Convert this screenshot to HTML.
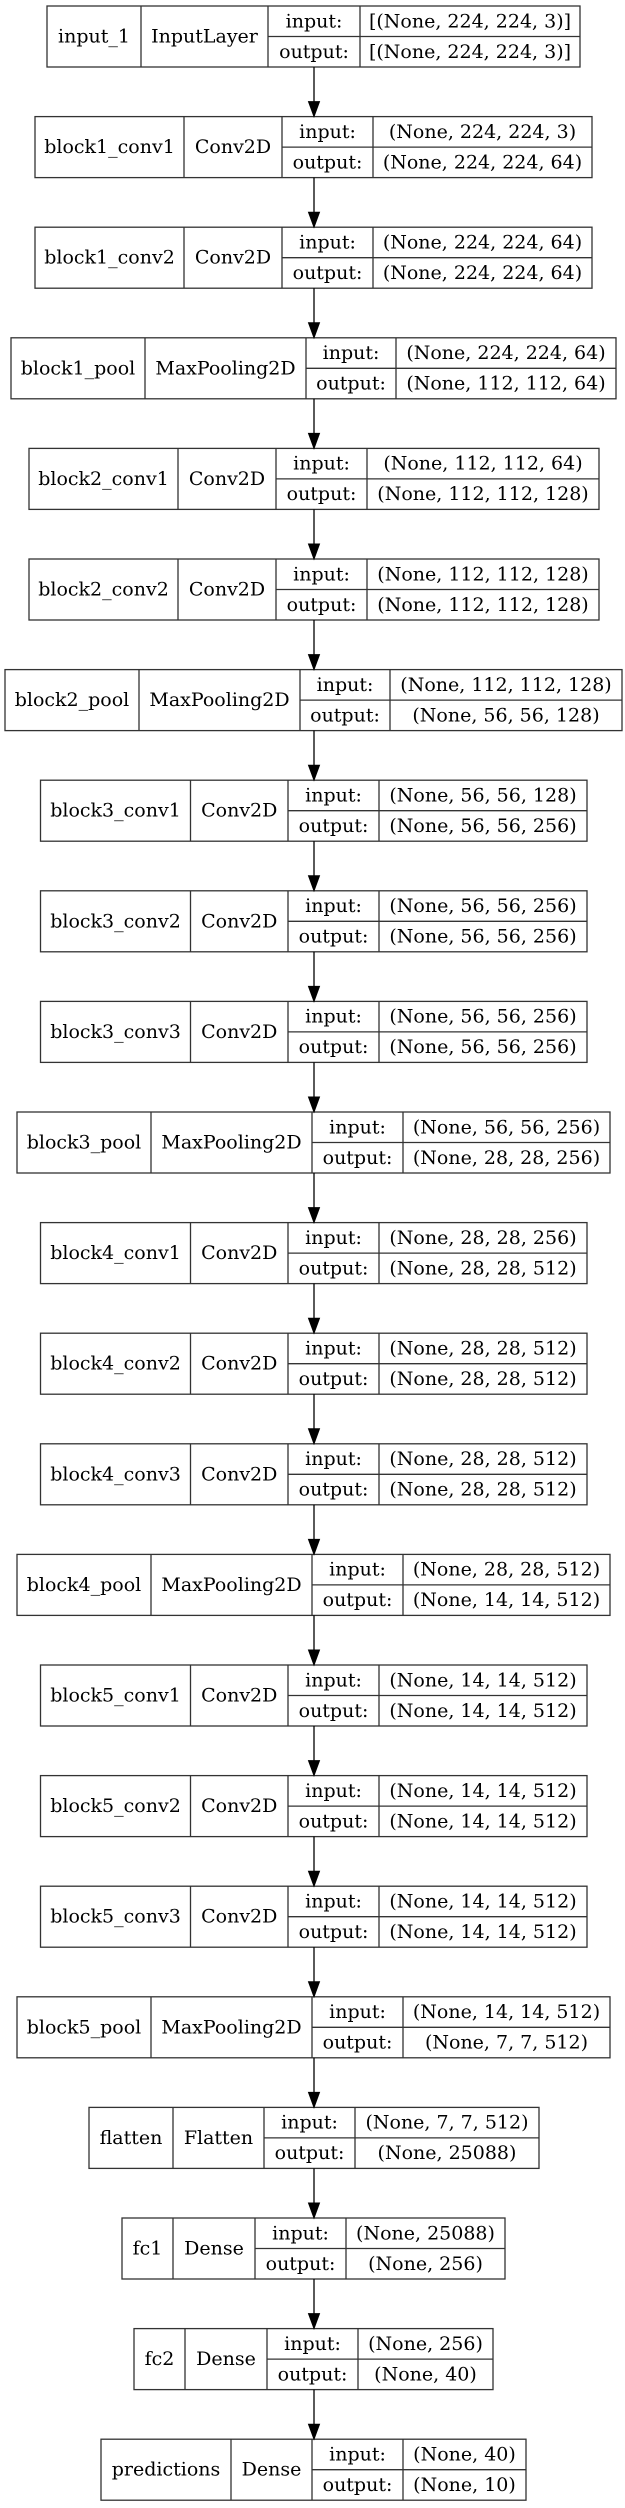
<!DOCTYPE html>
<html><head><meta charset="utf-8"><style>
html,body{margin:0;padding:0;background:#fff;}
svg{display:block;}
rect,line{stroke:#333;stroke-width:1.3;fill:none;}
rect{fill:#fff;}
text{font-family:"DejaVu Serif","Liberation Serif",serif;font-size:19px;text-anchor:middle;dominant-baseline:central;fill:#000;}
.ar line{stroke:#000;stroke-width:1.3;}
.ar polygon{fill:#000;stroke:#000;stroke-width:1;}
</style></head><body>
<svg width="625" height="2508" viewBox="0 0 625 2508" xmlns="http://www.w3.org/2000/svg">

<!-- 0 input_1 -->
<g transform="translate(0,6)"><rect x="47" y="0" width="533" height="61"/><line x1="141" y1="0" x2="141" y2="61"/><line x1="268" y1="0" x2="268" y2="61"/><line x1="360" y1="0" x2="360" y2="61"/><line x1="268" y1="30.5" x2="580" y2="30.5"/>
<text x="94" y="30.5">input_1</text><text x="204.5" y="30.5">InputLayer</text><text x="314" y="15.25">input:</text><text x="470" y="15.25">[(None, 224, 224, 3)]</text><text x="314" y="45.75">output:</text><text x="470" y="45.75">[(None, 224, 224, 3)]</text></g>

<!-- 1 block1_conv1 -->
<g transform="translate(0,116.6)"><rect x="35" y="0" width="557" height="61"/><line x1="184" y1="0" x2="184" y2="61"/><line x1="282" y1="0" x2="282" y2="61"/><line x1="373" y1="0" x2="373" y2="61"/><line x1="282" y1="30.5" x2="592" y2="30.5"/>
<text x="109.5" y="30.5">block1_conv1</text><text x="233" y="30.5">Conv2D</text><text x="327.5" y="15.25">input:</text><text x="482.5" y="15.25">(None, 224, 224, 3)</text><text x="327.5" y="45.75">output:</text><text x="482.5" y="45.75">(None, 224, 224, 64)</text></g>

<!-- 2 block1_conv2 -->
<g transform="translate(0,227.2)"><rect x="35" y="0" width="557" height="61"/><line x1="184" y1="0" x2="184" y2="61"/><line x1="282" y1="0" x2="282" y2="61"/><line x1="373" y1="0" x2="373" y2="61"/><line x1="282" y1="30.5" x2="592" y2="30.5"/>
<text x="109.5" y="30.5">block1_conv2</text><text x="233" y="30.5">Conv2D</text><text x="327.5" y="15.25">input:</text><text x="482.5" y="15.25">(None, 224, 224, 64)</text><text x="327.5" y="45.75">output:</text><text x="482.5" y="45.75">(None, 224, 224, 64)</text></g>

<!-- 3 block1_pool -->
<g transform="translate(0,337.8)"><rect x="11" y="0" width="605" height="61"/><line x1="145" y1="0" x2="145" y2="61"/><line x1="306" y1="0" x2="306" y2="61"/><line x1="396" y1="0" x2="396" y2="61"/><line x1="306" y1="30.5" x2="616" y2="30.5"/>
<text x="78" y="30.5">block1_pool</text><text x="225.5" y="30.5">MaxPooling2D</text><text x="351" y="15.25">input:</text><text x="506" y="15.25">(None, 224, 224, 64)</text><text x="351" y="45.75">output:</text><text x="506" y="45.75">(None, 112, 112, 64)</text></g>

<!-- 4 block2_conv1 -->
<g transform="translate(0,448.4)"><rect x="29" y="0" width="570" height="61"/><line x1="178" y1="0" x2="178" y2="61"/><line x1="276" y1="0" x2="276" y2="61"/><line x1="367" y1="0" x2="367" y2="61"/><line x1="276" y1="30.5" x2="599" y2="30.5"/>
<text x="103.5" y="30.5">block2_conv1</text><text x="227" y="30.5">Conv2D</text><text x="321.5" y="15.25">input:</text><text x="483" y="15.25">(None, 112, 112, 64)</text><text x="321.5" y="45.75">output:</text><text x="483" y="45.75">(None, 112, 112, 128)</text></g>

<!-- 5 block2_conv2 -->
<g transform="translate(0,559)"><rect x="29" y="0" width="570" height="61"/><line x1="178" y1="0" x2="178" y2="61"/><line x1="276" y1="0" x2="276" y2="61"/><line x1="367" y1="0" x2="367" y2="61"/><line x1="276" y1="30.5" x2="599" y2="30.5"/>
<text x="103.5" y="30.5">block2_conv2</text><text x="227" y="30.5">Conv2D</text><text x="321.5" y="15.25">input:</text><text x="483" y="15.25">(None, 112, 112, 128)</text><text x="321.5" y="45.75">output:</text><text x="483" y="45.75">(None, 112, 112, 128)</text></g>

<!-- 6 block2_pool -->
<g transform="translate(0,669.6)"><rect x="5" y="0" width="617" height="61"/><line x1="139" y1="0" x2="139" y2="61"/><line x1="300" y1="0" x2="300" y2="61"/><line x1="390" y1="0" x2="390" y2="61"/><line x1="300" y1="30.5" x2="622" y2="30.5"/>
<text x="72" y="30.5">block2_pool</text><text x="219.5" y="30.5">MaxPooling2D</text><text x="345" y="15.25">input:</text><text x="506" y="15.25">(None, 112, 112, 128)</text><text x="345" y="45.75">output:</text><text x="506" y="45.75">(None, 56, 56, 128)</text></g>

<!-- 7 block3_conv1 -->
<g transform="translate(0,780.2)"><rect x="40.5" y="0" width="546.5" height="61"/><line x1="190.5" y1="0" x2="190.5" y2="61"/><line x1="288" y1="0" x2="288" y2="61"/><line x1="379" y1="0" x2="379" y2="61"/><line x1="288" y1="30.5" x2="587" y2="30.5"/>
<text x="115.5" y="30.5">block3_conv1</text><text x="239.25" y="30.5">Conv2D</text><text x="333.5" y="15.25">input:</text><text x="483" y="15.25">(None, 56, 56, 128)</text><text x="333.5" y="45.75">output:</text><text x="483" y="45.75">(None, 56, 56, 256)</text></g>

<!-- 8 block3_conv2 -->
<g transform="translate(0,890.8)"><rect x="40.5" y="0" width="546.5" height="61"/><line x1="190.5" y1="0" x2="190.5" y2="61"/><line x1="288" y1="0" x2="288" y2="61"/><line x1="379" y1="0" x2="379" y2="61"/><line x1="288" y1="30.5" x2="587" y2="30.5"/>
<text x="115.5" y="30.5">block3_conv2</text><text x="239.25" y="30.5">Conv2D</text><text x="333.5" y="15.25">input:</text><text x="483" y="15.25">(None, 56, 56, 256)</text><text x="333.5" y="45.75">output:</text><text x="483" y="45.75">(None, 56, 56, 256)</text></g>

<!-- 9 block3_conv3 -->
<g transform="translate(0,1001.4)"><rect x="40.5" y="0" width="546.5" height="61"/><line x1="190.5" y1="0" x2="190.5" y2="61"/><line x1="288" y1="0" x2="288" y2="61"/><line x1="379" y1="0" x2="379" y2="61"/><line x1="288" y1="30.5" x2="587" y2="30.5"/>
<text x="115.5" y="30.5">block3_conv3</text><text x="239.25" y="30.5">Conv2D</text><text x="333.5" y="15.25">input:</text><text x="483" y="15.25">(None, 56, 56, 256)</text><text x="333.5" y="45.75">output:</text><text x="483" y="45.75">(None, 56, 56, 256)</text></g>

<!-- 10 block3_pool -->
<g transform="translate(0,1112)"><rect x="17" y="0" width="593" height="61"/><line x1="151" y1="0" x2="151" y2="61"/><line x1="312" y1="0" x2="312" y2="61"/><line x1="403" y1="0" x2="403" y2="61"/><line x1="312" y1="30.5" x2="610" y2="30.5"/>
<text x="84" y="30.5">block3_pool</text><text x="231.5" y="30.5">MaxPooling2D</text><text x="357.5" y="15.25">input:</text><text x="506.5" y="15.25">(None, 56, 56, 256)</text><text x="357.5" y="45.75">output:</text><text x="506.5" y="45.75">(None, 28, 28, 256)</text></g>

<!-- 11 block4_conv1 -->
<g transform="translate(0,1222.6)"><rect x="40.5" y="0" width="546.5" height="61"/><line x1="190.5" y1="0" x2="190.5" y2="61"/><line x1="288" y1="0" x2="288" y2="61"/><line x1="379" y1="0" x2="379" y2="61"/><line x1="288" y1="30.5" x2="587" y2="30.5"/>
<text x="115.5" y="30.5">block4_conv1</text><text x="239.25" y="30.5">Conv2D</text><text x="333.5" y="15.25">input:</text><text x="483" y="15.25">(None, 28, 28, 256)</text><text x="333.5" y="45.75">output:</text><text x="483" y="45.75">(None, 28, 28, 512)</text></g>

<!-- 12 block4_conv2 -->
<g transform="translate(0,1333.2)"><rect x="40.5" y="0" width="546.5" height="61"/><line x1="190.5" y1="0" x2="190.5" y2="61"/><line x1="288" y1="0" x2="288" y2="61"/><line x1="379" y1="0" x2="379" y2="61"/><line x1="288" y1="30.5" x2="587" y2="30.5"/>
<text x="115.5" y="30.5">block4_conv2</text><text x="239.25" y="30.5">Conv2D</text><text x="333.5" y="15.25">input:</text><text x="483" y="15.25">(None, 28, 28, 512)</text><text x="333.5" y="45.75">output:</text><text x="483" y="45.75">(None, 28, 28, 512)</text></g>

<!-- 13 block4_conv3 -->
<g transform="translate(0,1443.8)"><rect x="40.5" y="0" width="546.5" height="61"/><line x1="190.5" y1="0" x2="190.5" y2="61"/><line x1="288" y1="0" x2="288" y2="61"/><line x1="379" y1="0" x2="379" y2="61"/><line x1="288" y1="30.5" x2="587" y2="30.5"/>
<text x="115.5" y="30.5">block4_conv3</text><text x="239.25" y="30.5">Conv2D</text><text x="333.5" y="15.25">input:</text><text x="483" y="15.25">(None, 28, 28, 512)</text><text x="333.5" y="45.75">output:</text><text x="483" y="45.75">(None, 28, 28, 512)</text></g>

<!-- 14 block4_pool -->
<g transform="translate(0,1554.4)"><rect x="17" y="0" width="593" height="61"/><line x1="151" y1="0" x2="151" y2="61"/><line x1="312" y1="0" x2="312" y2="61"/><line x1="403" y1="0" x2="403" y2="61"/><line x1="312" y1="30.5" x2="610" y2="30.5"/>
<text x="84" y="30.5">block4_pool</text><text x="231.5" y="30.5">MaxPooling2D</text><text x="357.5" y="15.25">input:</text><text x="506.5" y="15.25">(None, 28, 28, 512)</text><text x="357.5" y="45.75">output:</text><text x="506.5" y="45.75">(None, 14, 14, 512)</text></g>

<!-- 15 block5_conv1 -->
<g transform="translate(0,1665)"><rect x="40.5" y="0" width="546.5" height="61"/><line x1="190.5" y1="0" x2="190.5" y2="61"/><line x1="288" y1="0" x2="288" y2="61"/><line x1="379" y1="0" x2="379" y2="61"/><line x1="288" y1="30.5" x2="587" y2="30.5"/>
<text x="115.5" y="30.5">block5_conv1</text><text x="239.25" y="30.5">Conv2D</text><text x="333.5" y="15.25">input:</text><text x="483" y="15.25">(None, 14, 14, 512)</text><text x="333.5" y="45.75">output:</text><text x="483" y="45.75">(None, 14, 14, 512)</text></g>

<!-- 16 block5_conv2 -->
<g transform="translate(0,1775.6)"><rect x="40.5" y="0" width="546.5" height="61"/><line x1="190.5" y1="0" x2="190.5" y2="61"/><line x1="288" y1="0" x2="288" y2="61"/><line x1="379" y1="0" x2="379" y2="61"/><line x1="288" y1="30.5" x2="587" y2="30.5"/>
<text x="115.5" y="30.5">block5_conv2</text><text x="239.25" y="30.5">Conv2D</text><text x="333.5" y="15.25">input:</text><text x="483" y="15.25">(None, 14, 14, 512)</text><text x="333.5" y="45.75">output:</text><text x="483" y="45.75">(None, 14, 14, 512)</text></g>

<!-- 17 block5_conv3 -->
<g transform="translate(0,1886.2)"><rect x="40.5" y="0" width="546.5" height="61"/><line x1="190.5" y1="0" x2="190.5" y2="61"/><line x1="288" y1="0" x2="288" y2="61"/><line x1="379" y1="0" x2="379" y2="61"/><line x1="288" y1="30.5" x2="587" y2="30.5"/>
<text x="115.5" y="30.5">block5_conv3</text><text x="239.25" y="30.5">Conv2D</text><text x="333.5" y="15.25">input:</text><text x="483" y="15.25">(None, 14, 14, 512)</text><text x="333.5" y="45.75">output:</text><text x="483" y="45.75">(None, 14, 14, 512)</text></g>

<!-- 18 block5_pool -->
<g transform="translate(0,1996.8)"><rect x="17" y="0" width="593" height="61"/><line x1="151" y1="0" x2="151" y2="61"/><line x1="312" y1="0" x2="312" y2="61"/><line x1="403" y1="0" x2="403" y2="61"/><line x1="312" y1="30.5" x2="610" y2="30.5"/>
<text x="84" y="30.5">block5_pool</text><text x="231.5" y="30.5">MaxPooling2D</text><text x="357.5" y="15.25">input:</text><text x="506.5" y="15.25">(None, 14, 14, 512)</text><text x="357.5" y="45.75">output:</text><text x="506.5" y="45.75">(None, 7, 7, 512)</text></g>

<!-- 19 flatten -->
<g transform="translate(0,2107.4)"><rect x="89" y="0" width="450" height="61"/><line x1="173" y1="0" x2="173" y2="61"/><line x1="264" y1="0" x2="264" y2="61"/><line x1="355" y1="0" x2="355" y2="61"/><line x1="264" y1="30.5" x2="539" y2="30.5"/>
<text x="131" y="30.5">flatten</text><text x="218.5" y="30.5">Flatten</text><text x="309.5" y="15.25">input:</text><text x="447" y="15.25">(None, 7, 7, 512)</text><text x="309.5" y="45.75">output:</text><text x="447" y="45.75">(None, 25088)</text></g>

<!-- 20 fc1 -->
<g transform="translate(0,2218)"><rect x="122" y="0" width="383" height="61"/><line x1="173" y1="0" x2="173" y2="61"/><line x1="255" y1="0" x2="255" y2="61"/><line x1="346" y1="0" x2="346" y2="61"/><line x1="255" y1="30.5" x2="505" y2="30.5"/>
<text x="147.5" y="30.5">fc1</text><text x="214" y="30.5">Dense</text><text x="300.5" y="15.25">input:</text><text x="425.5" y="15.25">(None, 25088)</text><text x="300.5" y="45.75">output:</text><text x="425.5" y="45.75">(None, 256)</text></g>

<!-- 21 fc2 -->
<g transform="translate(0,2328.6)"><rect x="134" y="0" width="359" height="61"/><line x1="185" y1="0" x2="185" y2="61"/><line x1="267" y1="0" x2="267" y2="61"/><line x1="358" y1="0" x2="358" y2="61"/><line x1="267" y1="30.5" x2="493" y2="30.5"/>
<text x="159.5" y="30.5">fc2</text><text x="226" y="30.5">Dense</text><text x="312.5" y="15.25">input:</text><text x="425.5" y="15.25">(None, 256)</text><text x="312.5" y="45.75">output:</text><text x="425.5" y="45.75">(None, 40)</text></g>

<!-- 22 predictions -->
<g transform="translate(0,2439.2)"><rect x="101" y="0" width="425" height="61"/><line x1="231" y1="0" x2="231" y2="61"/><line x1="312" y1="0" x2="312" y2="61"/><line x1="403" y1="0" x2="403" y2="61"/><line x1="312" y1="30.5" x2="526" y2="30.5"/>
<text x="166" y="30.5">predictions</text><text x="271.5" y="30.5">Dense</text><text x="357.5" y="15.25">input:</text><text x="464.5" y="15.25">(None, 40)</text><text x="357.5" y="45.75">output:</text><text x="464.5" y="45.75">(None, 10)</text></g>

<!-- arrows: from T+61 to next T (gap 49.6) -->
<g class="ar">
<g transform="translate(0,67)"><line x1="314" y1="0" x2="314" y2="36"/><polygon points="308.5,34.6 319.5,34.6 314,49.6"/></g>
<g transform="translate(0,177.6)"><line x1="314" y1="0" x2="314" y2="36"/><polygon points="308.5,34.6 319.5,34.6 314,49.6"/></g>
<g transform="translate(0,288.2)"><line x1="314" y1="0" x2="314" y2="36"/><polygon points="308.5,34.6 319.5,34.6 314,49.6"/></g>
<g transform="translate(0,398.8)"><line x1="314" y1="0" x2="314" y2="36"/><polygon points="308.5,34.6 319.5,34.6 314,49.6"/></g>
<g transform="translate(0,509.4)"><line x1="314" y1="0" x2="314" y2="36"/><polygon points="308.5,34.6 319.5,34.6 314,49.6"/></g>
<g transform="translate(0,620)"><line x1="314" y1="0" x2="314" y2="36"/><polygon points="308.5,34.6 319.5,34.6 314,49.6"/></g>
<g transform="translate(0,730.6)"><line x1="314" y1="0" x2="314" y2="36"/><polygon points="308.5,34.6 319.5,34.6 314,49.6"/></g>
<g transform="translate(0,841.2)"><line x1="314" y1="0" x2="314" y2="36"/><polygon points="308.5,34.6 319.5,34.6 314,49.6"/></g>
<g transform="translate(0,951.8)"><line x1="314" y1="0" x2="314" y2="36"/><polygon points="308.5,34.6 319.5,34.6 314,49.6"/></g>
<g transform="translate(0,1062.4)"><line x1="314" y1="0" x2="314" y2="36"/><polygon points="308.5,34.6 319.5,34.6 314,49.6"/></g>
<g transform="translate(0,1173)"><line x1="314" y1="0" x2="314" y2="36"/><polygon points="308.5,34.6 319.5,34.6 314,49.6"/></g>
<g transform="translate(0,1283.6)"><line x1="314" y1="0" x2="314" y2="36"/><polygon points="308.5,34.6 319.5,34.6 314,49.6"/></g>
<g transform="translate(0,1394.2)"><line x1="314" y1="0" x2="314" y2="36"/><polygon points="308.5,34.6 319.5,34.6 314,49.6"/></g>
<g transform="translate(0,1504.8)"><line x1="314" y1="0" x2="314" y2="36"/><polygon points="308.5,34.6 319.5,34.6 314,49.6"/></g>
<g transform="translate(0,1615.4)"><line x1="314" y1="0" x2="314" y2="36"/><polygon points="308.5,34.6 319.5,34.6 314,49.6"/></g>
<g transform="translate(0,1726)"><line x1="314" y1="0" x2="314" y2="36"/><polygon points="308.5,34.6 319.5,34.6 314,49.6"/></g>
<g transform="translate(0,1836.6)"><line x1="314" y1="0" x2="314" y2="36"/><polygon points="308.5,34.6 319.5,34.6 314,49.6"/></g>
<g transform="translate(0,1947.2)"><line x1="314" y1="0" x2="314" y2="36"/><polygon points="308.5,34.6 319.5,34.6 314,49.6"/></g>
<g transform="translate(0,2057.8)"><line x1="314" y1="0" x2="314" y2="36"/><polygon points="308.5,34.6 319.5,34.6 314,49.6"/></g>
<g transform="translate(0,2168.4)"><line x1="314" y1="0" x2="314" y2="36"/><polygon points="308.5,34.6 319.5,34.6 314,49.6"/></g>
<g transform="translate(0,2279)"><line x1="314" y1="0" x2="314" y2="36"/><polygon points="308.5,34.6 319.5,34.6 314,49.6"/></g>
<g transform="translate(0,2389.6)"><line x1="314" y1="0" x2="314" y2="36"/><polygon points="308.5,34.6 319.5,34.6 314,49.6"/></g>
</g>
</svg>
</body></html>
